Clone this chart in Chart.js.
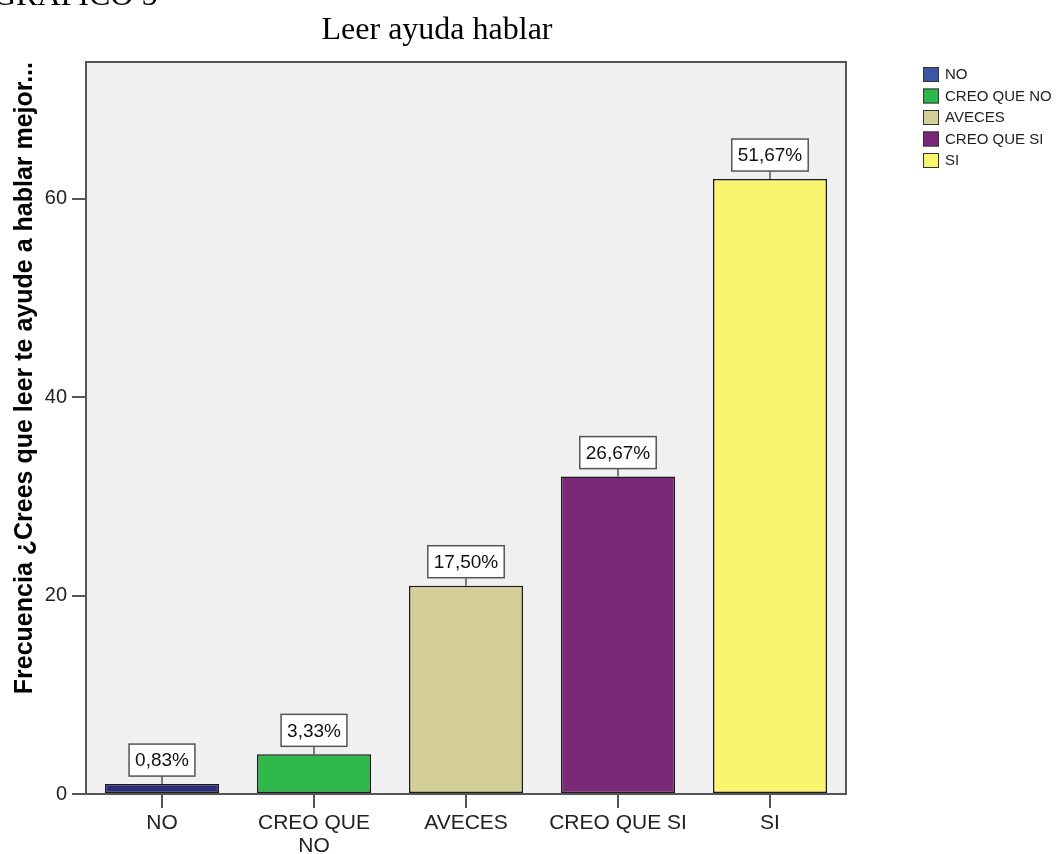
<!DOCTYPE html>
<html>
<head>
<meta charset="utf-8">
<title>Leer ayuda hablar</title>
<script src="https://cdn.jsdelivr.net/npm/chart.js@4.4.1/dist/chart.umd.min.js"></script>
<style>
  html, body { margin: 0; padding: 0; background: #fff; }
  #wrap { position: relative; width: 1057px; height: 854px; }
</style>
</head>
<body>
<div id="wrap"><canvas id="chart" width="1057" height="854"></canvas></div>
<script>
// data
const categories = ['NO', ['CREO QUE', 'NO'], 'AVECES', 'CREO QUE SI', 'SI'];
const legendNames = ['NO', 'CREO QUE NO', 'AVECES', 'CREO QUE SI', 'SI'];
const frequencies = [1, 4, 21, 32, 62];
const yTicks = [0, 20, 40, 60];

const barColors = ['#2a2b7a', '#2fb84b', '#d4cf98', '#7b2879', '#faf56e'];
const legendColors = ['#3d55a5', '#2fb84b', '#d4cf98', '#7b2879', '#faf56e'];

const total = frequencies.reduce((a, b) => a + b, 0);
const pctLabels = frequencies.map(v => (v / total * 100).toFixed(2).replace('.', ',') + '%');

const SANS = '"Liberation Sans", Arial, sans-serif';
const SERIF = '"Liberation Serif", "Times New Roman", serif';

// plot background + frame, titles, legend, value boxes
const decor = {
  id: 'decor',
  beforeDatasetsDraw(chart) {
    const { ctx, chartArea: a } = chart;
    ctx.save();
    ctx.fillStyle = '#f0f0f0';
    ctx.fillRect(a.left, a.top, a.right - a.left, a.bottom - a.top);
    ctx.restore();
  },
  afterDatasetsDraw(chart) {
    const { ctx, chartArea: a } = chart;
    ctx.save();

    // frame around plot
    ctx.strokeStyle = '#555';
    ctx.lineWidth = 2;
    ctx.strokeRect(a.left, a.top, a.right - a.left, a.bottom - a.top);

    // value boxes above bars
    const meta = chart.getDatasetMeta(0);
    ctx.font = '19px ' + SANS;
    ctx.textAlign = 'center';
    ctx.textBaseline = 'middle';
    meta.data.forEach((bar, i) => {
      const txt = pctLabels[i];
      const w = ctx.measureText(txt).width + 12;
      const h = 32;
      const bottom = bar.y - 8;
      ctx.strokeStyle = '#555';
      ctx.lineWidth = 1.5;
      ctx.beginPath();
      ctx.moveTo(bar.x, bottom);
      ctx.lineTo(bar.x, bar.y);
      ctx.stroke();
      ctx.fillStyle = '#fff';
      ctx.fillRect(bar.x - w / 2, bottom - h, w, h);
      ctx.strokeRect(bar.x - w / 2, bottom - h, w, h);
      ctx.fillStyle = '#111';
      ctx.fillText(txt, bar.x, bottom - h / 2 + 1);
    });

    // titles
    ctx.fillStyle = '#000';
    ctx.textBaseline = 'alphabetic';
    ctx.font = '32px ' + SERIF;
    ctx.textAlign = 'left';
    ctx.fillText('GRÁFICO 5', -7, 5);
    ctx.textAlign = 'center';
    ctx.fillText('Leer ayuda hablar', 437, 39);

    // legend
    ctx.font = '15px ' + SANS;
    ctx.textAlign = 'left';
    ctx.textBaseline = 'middle';
    legendNames.forEach((name, i) => {
      const y = 67 + i * 21.5;
      ctx.fillStyle = legendColors[i];
      ctx.fillRect(923, y, 16, 15);
      ctx.strokeStyle = '#333';
      ctx.lineWidth = 1;
      ctx.strokeRect(923.5, y + 0.5, 15, 14);
      ctx.fillStyle = '#222';
      ctx.fillText(name, 945, y + 8);
    });
    ctx.restore();
  }
};

new Chart(document.getElementById('chart'), {
  type: 'bar',
  data: {
    labels: categories,
    datasets: [{
      label: 'Frecuencia',
      data: frequencies,
      backgroundColor: barColors,
      borderColor: '#1a1a1a',
      borderWidth: 1.5,
      borderSkipped: false,
      barPercentage: 0.75,
      categoryPercentage: 1
    }]
  },
  options: {
    responsive: false,
    animation: false,
    layout: { padding: { left: 0, right: 211, top: 62, bottom: 0 } },
    plugins: {
      legend: { display: false },
      tooltip: { enabled: false }
    },
    scales: {
      x: {
        afterFit(scale) { scale.height = 60; },
        grid: { display: true, offset: false, drawOnChartArea: false, drawTicks: true, tickLength: 14, tickColor: '#555', lineWidth: 2 },
        border: { display: false },
        ticks: {
          color: '#222',
          padding: 4,
          maxRotation: 0,
          autoSkip: false,
          font: { family: SANS, size: 21, lineHeight: 1.1 }
        }
      },
      y: {
        min: 0,
        max: 73.8,
        afterFit(scale) { scale.width = 86; },
        afterBuildTicks(scale) { scale.ticks = yTicks.map(v => ({ value: v })); },
        grid: { display: true, drawOnChartArea: false, drawTicks: true, tickLength: 14, tickColor: '#555', lineWidth: 2 },
        border: { display: false },
        ticks: {
          color: '#222',
          padding: 5,
          font: { family: SANS, size: 20 }
        },
        title: {
          display: true,
          text: 'Frecuencia ¿Crees que leer te ayude a hablar mejor...',
          align: 'end',
          color: '#000',
          padding: { top: 10, bottom: 0 },
          font: { family: SANS, size: 25, weight: 'bold', lineHeight: 1.2 }
        }
      }
    }
  },
  plugins: [decor]
});
</script>
</body>
</html>
